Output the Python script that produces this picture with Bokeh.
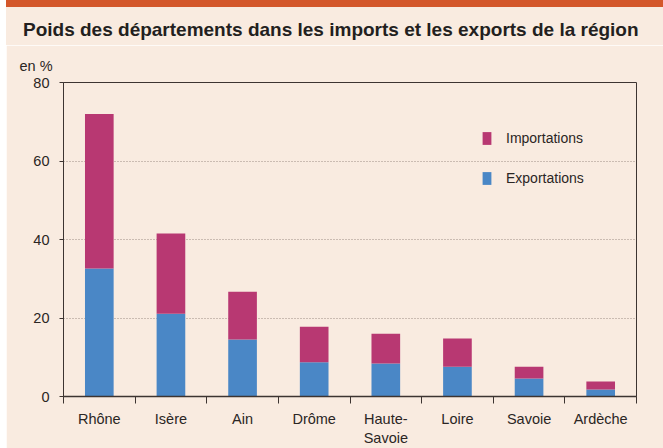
from bokeh.plotting import figure
from bokeh.models import (Range1d, FixedTicker, Title, Legend, LegendItem, Div, ColumnDataSource)
from bokeh.layouts import column
from bokeh.embed import file_html
from bokeh.resources import INLINE

departements = ["Rhône", "Isère", "Ain", "Drôme", "Haute-Savoie", "Loire", "Savoie", "Ardèche"]
tick_labels = ["Rhône", "Isère", "Ain", "Drôme", "Haute-\nSavoie", "Loire", "Savoie", "Ardèche"]
exportations = [32.6, 21.1, 14.5, 8.7, 8.4, 7.6, 4.6, 1.8]
importations = [39.4, 20.4, 12.2, 9.1, 7.6, 7.2, 3.0, 2.0]
y_ticks = [0, 20, 40, 60, 80]
title_text = "Poids des départements dans les imports et les exports de la région"

BG = "#F9EBE0"
BLUE = "#4A87C6"
MAGENTA = "#B83872"
AXIS = "#3d3431"
TXT = "#2b2624"
FONT = "Liberation Sans"

n = len(departements)
idx = list(range(n))
src = ColumnDataSource(dict(x=idx, dep=departements, exp=exportations, imp=importations))

p = figure(x_range=Range1d(-0.5, n - 0.5), y_range=Range1d(0, 80), width=657, height=403,
           output_backend="svg", toolbar_location=None, margin=0,
           min_border_left=57, min_border_right=27, min_border_top=37, min_border_bottom=52)
p.background_fill_color = BG
p.border_fill_color = BG
p.outline_line_color = AXIS
p.outline_line_width = 1

rs = p.vbar_stack(["exp", "imp"], x="x", width=0.4, color=[BLUE, MAGENTA], source=src, line_width=0)

xa = p.xaxis[0]
xa.ticker = FixedTicker(ticks=idx, minor_ticks=[i - 0.5 for i in range(n + 1)])
xa.major_label_overrides = {i: lab for i, lab in zip(idx, tick_labels)}
xa.major_tick_in = 0
xa.major_tick_out = 0
xa.minor_tick_in = 0
xa.minor_tick_out = 7
xa.minor_tick_line_color = AXIS
xa.axis_line_color = AXIS
xa.axis_line_width = 1.5
xa.major_label_text_font = FONT
xa.major_label_text_font_size = "14.5px"
xa.major_label_text_color = TXT
xa.major_label_standoff = 7

ya = p.yaxis[0]
ya.ticker = FixedTicker(ticks=y_ticks, minor_ticks=[])
ya.major_tick_in = 0
ya.major_tick_out = 4
ya.major_tick_line_color = AXIS
ya.axis_line_color = AXIS
ya.major_label_text_font = FONT
ya.major_label_text_font_size = "14.5px"
ya.major_label_text_color = TXT
ya.major_label_standoff = 10

p.xgrid.visible = False
p.ygrid.grid_line_color = "#9c8c84"
p.ygrid.grid_line_dash = "1 2"
p.ygrid.grid_line_width = 1

legend = Legend(items=[LegendItem(label="Importations", renderers=[rs[1]]),
                       LegendItem(label="Exportations", renderers=[rs[0]])],
                location=(418, 210), background_fill_alpha=0, border_line_alpha=0,
                glyph_width=11, glyph_height=16, label_standoff=14, spacing=24,
                padding=0, margin=0, label_text_font=FONT, label_text_font_size="14px",
                label_text_color=TXT, label_height=16)
p.add_layout(legend)

p.add_layout(Title(text="en %", align="left", offset=-44, text_font=FONT, text_font_size="14.5px",
                   text_font_style="normal", text_color=TXT, standoff=18), "above")

band = Div(width=657, height=7, margin=0, styles={"background-color": "#D4572A"})
head = Div(text=title_text, width=657, height=38, margin=0,
           styles={"background-color": BG, "font-family": FONT, "font-size": "19px",
                   "font-weight": "bold", "color": "#231f20", "line-height": "18px",
                   "padding-top": "14px", "padding-left": "17px", "box-sizing": "border-box",
                   "white-space": "nowrap", "overflow": "hidden"})
layout = column(band, head, p, spacing=0, margin=(0, 0, 0, 6))

open("out.html", "w").write(file_html(layout, INLINE))
